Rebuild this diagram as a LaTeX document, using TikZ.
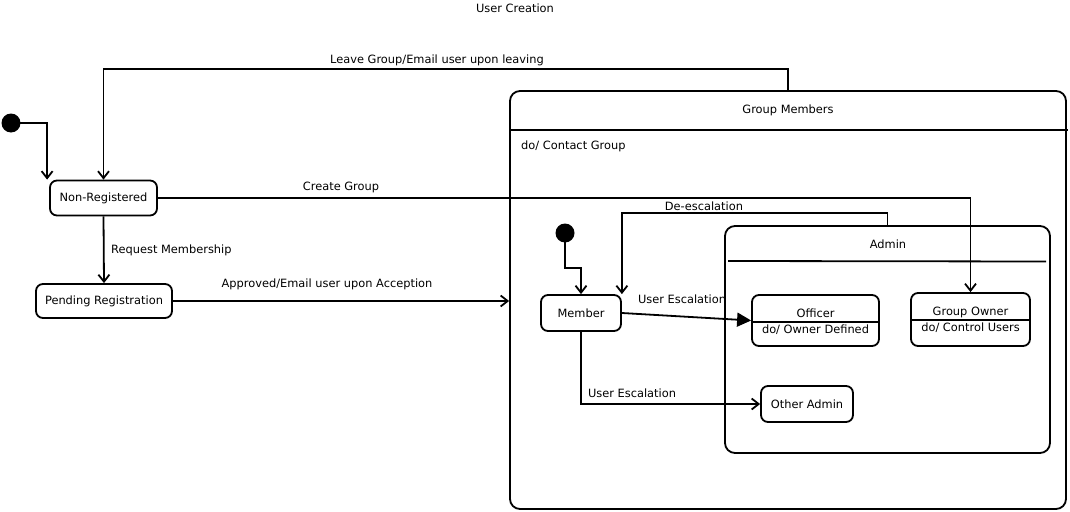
\documentclass[tikz,border=0pt]{standalone}
\usepackage{fontspec}
\setmainfont{DejaVu Sans}
\usetikzlibrary{arrows.meta,calc}
\begin{document}
\begin{tikzpicture}[x=1pt,y=-1pt,
  every node/.style={font=\fontsize{11.4}{13}\selectfont},
  st/.style={draw,line width=1.8pt,rounded corners=7pt,inner sep=0pt},
  comp/.style={draw,line width=1.8pt,rounded corners=10pt,inner sep=0pt},
  tr/.style={line width=1.8pt,-{Straight Barb[length=7pt,width=11pt,line width=1.8pt]}},
  trf/.style={line width=1.8pt,-{Triangle[length=14pt,width=14pt]}},
  lbl/.style={inner sep=0pt},
  ini/.style={circle,fill=black,minimum size=19pt,inner sep=0pt}]
\useasboundingbox (0,0) rectangle (1070,511);
\fill[white] (0,0) rectangle (1070,511);
\node[lbl] (title) at (515,8) {User Creation};
% composite states
\node[comp,minimum width=556pt,minimum height=418pt] (gm) at (788,300) {};
\draw[line width=1.8pt] (gm.west |- 0,130) -- (1068,130);
\node[lbl] (gmt) at (788,110) {Group Members};
\node[lbl,anchor=west] (gmd) at (521,146) {do/ Contact Group};
\node[comp,minimum width=325pt,minimum height=227pt] (adm) at (887.5,339.5) {};
\draw[line width=1.8pt] (728,261) -- (1046,261.5);
\node[lbl] (admt) at (888,244) {Admin};
% simple states
\node[ini] (i1) at (11,123) {};
\node[st,minimum width=107pt,minimum height=35pt] (nr) at (103.5,198) {Non-Registered};
\node[st,minimum width=136pt,minimum height=34pt] (pr) at (104,301) {Pending Registration};
\node[ini] (i2) at (565,233) {};
\node[st,minimum width=80pt,minimum height=36pt] (mem) at (581,313) {Member};
\node[st,minimum width=127pt,minimum height=51pt] (off) at (815.5,320.5) {};
\draw[line width=1.8pt] ($(off.west)+(0,1.5)$) -- ($(off.east)+(0,1.5)$);
\node[lbl] (offt) at (815.5,313) {Officer};
\node[lbl] (offd) at (815.5,330) {do/ Owner Defined};
\node[st,minimum width=119pt,minimum height=53pt] (go) at (970.5,319.5) {};
\draw[line width=1.8pt] ($(go.west)+(0,0.5)$) -- ($(go.east)+(0,0.5)$);
\node[lbl] (got) at (970.5,312) {Group Owner};
\node[lbl] (god) at (970.5,328) {do/ Control Users};
\node[st,minimum width=92pt,minimum height=36pt] (oa) at (807,404) {Other Admin};
% transitions
\draw[tr] (i1.center) -| ([xshift=-2pt]nr.north west);
\draw[tr] (gm.north) -- ++(0,-21) -| (nr.north);
\node[lbl] (l1) at (437,60) {Leave Group/Email user upon leaving};
\draw[tr] (nr.south) -- (pr.north);
\node[lbl,anchor=west] (l2) at (111,250) {Request Membership};
\draw[tr] (nr.east) -| (go.north);
\node[lbl] (l3) at (341,187) {Create Group};
\draw[tr] (pr.east) -- (pr.east -| gm.west);
\node[lbl] (l4) at (327,284) {Approved/Email user upon Acception};
\draw[tr] (i2.center) -- ++(0,35) -| (mem.north);
\draw[tr] (adm.north) -- ++(0,-12) -| (mem.north east);
\node[lbl] (l5) at (704,206) {De-escalation};
\draw[trf] (mem.east) -- (off.west);
\node[lbl] (l6) at (682,299) {User Escalation};
\draw[tr] (mem.south) |- (oa.west);
\node[lbl] (l7) at (632,393) {User Escalation};
\end{tikzpicture}
\end{document}
